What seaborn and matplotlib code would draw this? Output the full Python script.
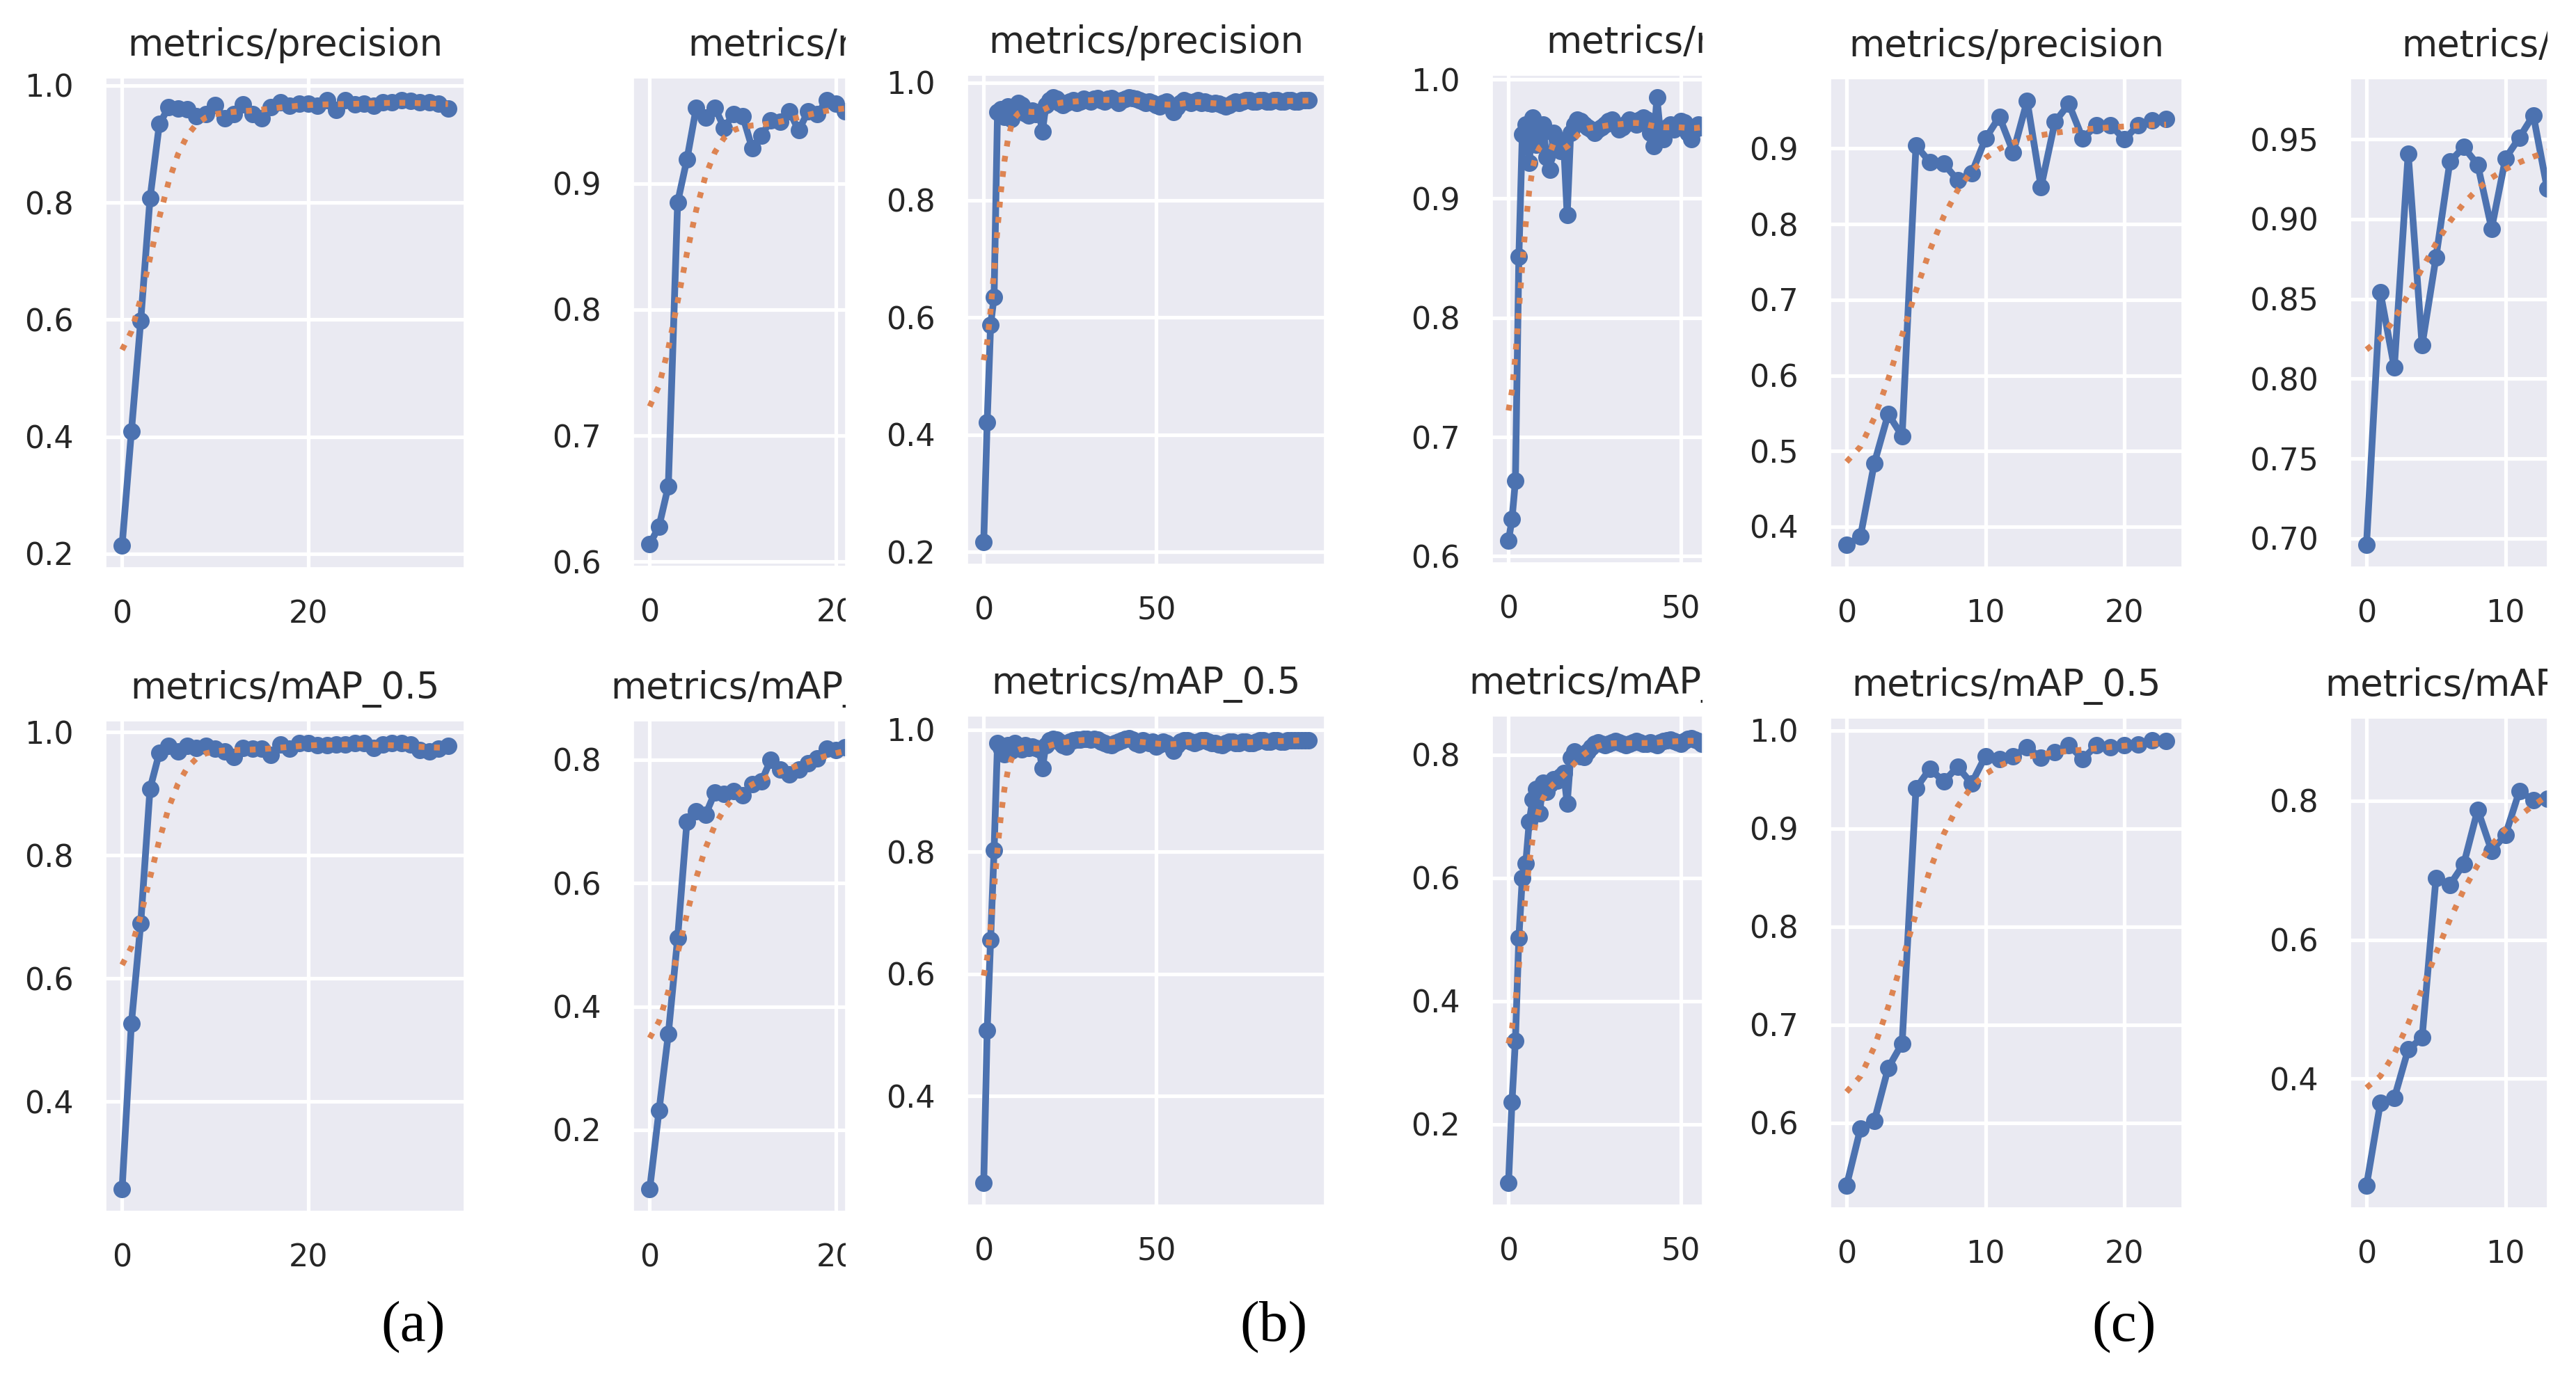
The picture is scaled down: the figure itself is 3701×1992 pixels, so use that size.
"""
Training curves (precision / recall / mAP) for three runs, cropped 2x2 panels per run
"""
import numpy as np
import matplotlib.pyplot as plt
import seaborn as sns
from matplotlib.transforms import Bbox, TransformedBbox

W, H = 3701, 1992
BLUE = '#4C72B0'
ORANGE = '#DD8452'

# ---- run (a): 36 epochs
epochs_a = list(range(36))
prec_a = [.214, .409, .598, .807, .934, .963, .961, .960, .948, .951,
          .967, .944, .951, .968, .951, .944, .963, .971, .965, .969,
          .969, .965, .975, .958, .975, .968, .969, .965, .971, .971,
          .975, .974, .971, .971, .969, .961]
recall_a = [.614, .628, .660, .885, .919, .960, .952, .960, .944, .955,
            .953, .928, .938, .950, .949, .957, .942, .957, .955, .966,
            .963, .957, .962, .958, .960, .963, .960, .958, .962, .964,
            .960, .962, .958, .960, .962, .960]
map50_a = [.258, .527, .689, .908, .966, .977, .969, .977, .974, .977,
           .973, .969, .959, .974, .973, .973, .963, .980, .973, .982,
           .982, .979, .979, .980, .980, .982, .982, .974, .980, .982,
           .982, .980, .971, .969, .973, .977]
map_a = [.104, .231, .355, .511, .700, .716, .711, .747, .745, .749,
         .743, .761, .765, .800, .784, .776, .784, .794, .802, .818,
         .816, .820, .818, .822, .820, .824, .822, .820, .825, .827,
         .824, .822, .826, .825, .823, .825]

# ---- run (b): 95 epochs
epochs_b = list(range(95))
prec_b = [.217, .421, .587, .635, .950, .955, .942, .960, .938, .958,
          .966, .962, .948, .944, .952, .946, .950, .917, .962, .970,
          .975, .972, .966, .962, .965, .968, .970, .966, .968, .972,
          .970, .968, .972, .974, .970, .968, .972, .974, .970, .966,
          .970, .972, .975, .974, .972, .970, .968, .966, .968, .966,
          .962, .960, .966, .968, .962, .950, .958, .966, .970, .968,
          .966, .968, .970, .966, .968, .966, .964, .966, .964, .962,
          .960, .962, .966, .968, .966, .968, .970, .970, .968, .968,
          .970, .970, .968, .968, .970, .970, .968, .968, .970, .970,
          .968, .968, .970, .970, .970]
recall_b = [.613, .631, .663, .851, .954, .962, .930, .968, .945, .958,
            .962, .935, .924, .955, .950, .940, .945, .886, .955, .962,
            .966, .965, .962, .960, .958, .955, .958, .960, .962, .965,
            .966, .962, .958, .960, .963, .966, .965, .962, .966, .968,
            .966, .955, .944, .985, .955, .950, .960, .962, .958, .962,
            .965, .964, .955, .950, .958, .962, .960, .962, .964, .960,
            .958, .962, .964, .962, .960, .962, .964, .962, .960, .962,
            .964, .962, .962, .964, .962, .960, .962, .964, .962, .962,
            .964, .962, .960, .962, .964, .962, .962, .964, .962, .962,
            .964, .962, .962, .964, .962]
map50_b = [.258, .507, .656, .802, .978, .970, .960, .975, .965, .978,
           .972, .968, .975, .970, .972, .970, .968, .937, .975, .982,
           .985, .984, .980, .975, .972, .980, .983, .984, .984, .985,
           .985, .984, .985, .984, .980, .978, .976, .975, .978, .980,
           .983, .985, .986, .984, .978, .976, .982, .980, .978, .980,
           .972, .976, .980, .978, .975, .965, .975, .980, .982, .983,
           .980, .978, .980, .983, .982, .980, .978, .978, .976, .975,
           .978, .980, .980, .978, .978, .980, .980, .978, .978, .980,
           .982, .982, .980, .980, .982, .982, .980, .980, .982, .982,
           .983, .983, .982, .983, .983]
map_b = [.105, .236, .336, .503, .600, .624, .691, .728, .745, .705,
         .755, .740, .752, .760, .758, .765, .770, .721, .795, .806,
         .800, .798, .796, .805, .812, .818, .820, .818, .816, .818,
         .820, .822, .820, .818, .816, .818, .820, .822, .820, .818,
         .818, .820, .818, .816, .820, .822, .824, .825, .822, .820,
         .818, .822, .826, .827, .825, .822, .818, .820, .822, .824,
         .822, .820, .822, .824, .825, .823, .822, .824, .825, .824,
         .822, .823, .825, .824, .822, .824, .825, .824, .823, .824,
         .825, .824, .823, .824, .825, .824, .824, .825, .824, .824,
         .825, .824, .824, .825, .824]

# ---- run (c): 24 epochs
epochs_c = list(range(24))
prec_c = [.376, .387, .484, .549, .520, .904, .882, .880, .858, .867,
          .913, .942, .895, .963, .849, .935, .959, .913, .931, .931,
          .912, .931, .937, .939]
recall_c = [.696, .854, .807, .941, .821, .876, .936, .945, .934, .894,
            .938, .951, .965, .919, .930, .948, .958, .974, .952, .960,
            .955, .964, .960, .962]
map50_c = [.536, .594, .602, .656, .681, .941, .961, .948, .963, .946,
           .974, .971, .974, .983, .972, .978, .985, .971, .985, .983,
           .985, .986, .990, .989]
map_c = [.246, .365, .372, .442, .459, .689, .679, .709, .787, .728,
         .751, .814, .801, .803, .815, .835, .850, .862, .855, .870,
         .876, .880, .887, .884]

run_labels = ['(a)', '(b)', '(c)']


def smooth(y, sigma=3.0):
    # same as scipy gaussian_filter1d (mode='reflect', truncate=4)
    y = np.asarray(y, dtype=float)
    r = int(4 * sigma + 0.5)
    k = np.exp(-0.5 * (np.arange(-r, r + 1) / sigma) ** 2)
    k /= k.sum()
    return np.convolve(np.pad(y, r, mode='symmetric'), k, mode='valid')


sns.set_theme(style='darkgrid', rc={
    'axes.facecolor': '#EAEAF2',
    'grid.color': 'white',
    'grid.linewidth': 3.8,
    'xtick.labelsize': 32,
    'ytick.labelsize': 32,
    'axes.titlesize': 38,
    'text.color': '.15',
    'xtick.color': '.15',
    'ytick.color': '.15',
})

fig = plt.figure(figsize=(W / 100, H / 100), dpi=100)

# (x, y, title, box in px (l, t, r, b), xticks, yticks, visible fraction)
panels = [
    (epochs_a, prec_a, 'metrics/precision', (152, 112, 667, 816), [0, 20], [.2, .4, .6, .8, 1.0], 1),
    (epochs_a, recall_a, 'metrics/recall', (910, 112, 1215, 814), [0, 20], [.6, .7, .8, .9], .592),
    (epochs_a, map50_a, 'metrics/mAP_0.5', (152, 1036, 667, 1741), [0, 20], [.4, .6, .8, 1.0], 1),
    (epochs_a, map_a, 'metrics/mAP_0.5:0.95', (910, 1036, 1215, 1741), [0, 20], [.2, .4, .6, .8], .592),
    (epochs_b, prec_b, 'metrics/precision', (1390, 108, 1903, 811), [0, 50], [.2, .4, .6, .8, 1.0], 1),
    (epochs_b, recall_b, 'metrics/recall', (2144, 108, 2446, 809), [0, 50], [.6, .7, .8, .9, 1.0], .589),
    (epochs_b, map50_b, 'metrics/mAP_0.5', (1390, 1029, 1903, 1732), [0, 50], [.4, .6, .8, 1.0], 1),
    (epochs_b, map_b, 'metrics/mAP_0.5:0.95', (2144, 1029, 2446, 1732), [0, 50], [.2, .4, .6, .8], .589),
    (epochs_c, prec_c, 'metrics/precision', (2630, 113, 3135, 815), [0, 10, 20], [.4, .5, .6, .7, .8, .9], 1),
    (epochs_c, recall_c, 'metrics/recall', (3377, 113, 3660, 815), [0, 10, 20], [.70, .75, .80, .85, .90, .95], .560),
    (epochs_c, map50_c, 'metrics/mAP_0.5', (2630, 1032, 3135, 1736), [0, 10, 20], [.6, .7, .8, .9, 1.0], 1),
    (epochs_c, map_c, 'metrics/mAP_0.5:0.95', (3377, 1032, 3660, 1736), [0, 10, 20], [.4, .6, .8], .560),
]

for x, y, title, (l, t, r, b), xt, yt, frac in panels:
    ax = fig.add_axes([l / W, 1 - b / H, (r - l) / W, (b - t) / H])
    sns.lineplot(x=x, y=y, ax=ax, color=BLUE, marker='.', markersize=29,
                 markeredgecolor=BLUE, markeredgewidth=3.5, linewidth=7)
    sns.lineplot(x=x, y=smooth(y), ax=ax, color=ORANGE, linestyle=':', linewidth=6)
    ax.set(xlabel=None, ylabel=None)
    ax.set_xticks(xt)
    ax.set_yticks(yt)
    ax.tick_params(length=0, pad=33)
    ax.set_title(title, pad=23)
    if frac < 1:
        # the right-hand panel of each run is cropped in the original figure
        n = x[-1]
        ax.set_xlim(-0.05 * n, -0.05 * n + 1.1 * n * frac)
        ax.title.set_x(0.5 / frac)
        clip = TransformedBbox(Bbox([[0, 0], [r / W, 1]]), fig.transFigure)
        ax.title.set_clip_box(clip)
        ax.title.set_clip_on(True)
        for tk in ax.xaxis.get_major_ticks():
            tk.label1.set_clip_box(clip)
            tk.label1.set_clip_on(True)

for label, xc in zip(run_labels, [594, 1830, 3052]):
    fig.text(xc / W, 1 - 1908 / H, label, ha='center', va='center',
             fontsize=60, family='Liberation Serif', color='black')

fig.savefig('out.png', dpi=100, facecolor='white')
